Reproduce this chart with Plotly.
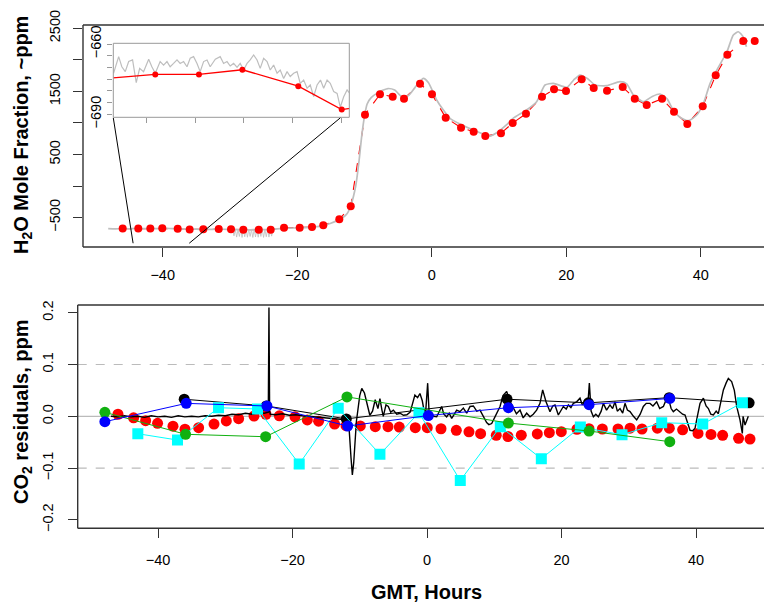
import plotly.graph_objects as go

# page body has an 8 px margin, so the figure is 8 px smaller than the 772x602 window
OFF = 8
W, H = 772 - OFF, 602 - OFF
FONT = "Liberation Sans, Arial, sans-serif"


def fx(px):
    return (px - OFF) / W


def fy(py):
    return 1 - (py - OFF) / H


# ---------------- data: top panel (H2O) ----------------
h2o_t = [-45.95, -43.63, -41.84, -40.06, -37.77, -35.99, -33.96, -31.67, -29.84, -28.01,
         -25.72, -23.94, -21.96, -19.63, -17.80, -16.12, -13.74, -12.04, -9.92, -7.69,
         -5.80, -4.12, -1.74, 0.04, 2.08, 4.36, 6.24, 7.97, 10.30, 12.04,
         14.02, 16.40, 18.19, 19.97, 22.30, 24.09, 26.07, 28.40, 30.19, 31.97,
         34.25, 36.03, 38.01, 40.30, 42.23, 43.96, 46.33, 48.03]
h2o_v = [-675, -673, -673, -671, -678, -688, -685, -681, -686, -692,
         -694, -692, -661, -661, -650, -623, -528, -322, 1130, 1453,
         1415, 1384, 1622, 1453, 1083, 924, 861, 792, 835, 998,
         1146, 1415, 1532, 1506, 1691, 1553, 1510, 1569, 1384, 1284,
         1384, 1178, 983, 1263, 1754, 2081, 2298, 2298]

gray_t = [-48.1, -47.0, -46.0, -45.0, -44.0, -43.0, -42.0, -41.0, -40.0, -39.0, -38.0, -37.0,
          -36.0, -35.0, -34.0, -33.0, -32.0, -31.0, -30.0, -29.0, -28.0, -27.0, -26.0, -25.0,
          -24.0, -23.0, -22.0, -21.0, -20.0, -19.0, -18.0, -17.0, -16.0, -15.0, -14.0, -13.2,
          -12.6, -12.0, -11.3, -10.8, -10.4, -10.0, -9.6, -9.0, -8.0, -7.2, -6.5, -5.5, -4.5,
          -3.5, -2.5, -1.25, -0.5, 0.74, 1.73, 2.72, 4.2, 6.2, 8.67, 9.67, 11.15, 12.1, 14.1,
          15.6, 16.85, 18.1, 20.1, 21.1, 22.05, 23.2, 24.3, 26.0, 28.0, 29.0, 30.0, 31.5, 32.8,
          33.95, 35.0, 35.9, 36.9, 38.2, 39.4, 40.4, 41.4, 42.4, 43.9, 44.85, 45.6, 46.3, 46.8]
gray_v = [-677, -680, -676, -678, -672, -676, -671, -675, -668, -674, -678, -682,
          -686, -684, -690, -688, -684, -686, -690, -692, -688, -694, -690, -692,
          -688, -680, -672, -668, -664, -660, -655, -645, -625, -590, -545, -500,
          -440, -300, 0, 400, 800, 1100, 1300, 1400, 1480, 1521, 1545, 1520, 1420,
          1430, 1560, 1706, 1640, 1363, 1204, 1073, 983, 887, 792, 845, 971, 1073, 1204,
          1336, 1601, 1627, 1564, 1680, 1759, 1700, 1601, 1590, 1653, 1620, 1442, 1336, 1420,
          1458, 1380, 1204, 1089, 1035, 1125, 1311, 1627, 1838, 2128, 2393, 2445, 2366, 2208]

# dense downward gray spikes seen below the points around -29 .. -24 h
hatch_t = [-29.6, -29.4, -29.2, -29.0, -28.8, -28.6, -28.4, -28.2, -28.0, -27.8, -27.6,
           -27.4, -27.2, -27.0, -26.8, -26.6, -26.4, -26.2, -26.0, -25.8, -25.6, -25.4,
           -25.2, -25.0, -24.8, -24.6, -24.4, -24.2, -24.0, -23.8, -23.6]
hatch_v = [-690, -790, -692, -810, -688, -800, -690, -815, -692, -805, -690,
           -812, -688, -800, -692, -815, -690, -808, -692, -812, -690, -800,
           -688, -815, -690, -805, -692, -810, -690, -795, -690]

# inset: zoomed raw H2O signal
inset_t = [-45.34, -45.13, -45.0, -44.86, -44.72, -44.56, -44.41, -44.27, -44.11, -43.90,
           -43.77, -43.63, -43.43, -43.29, -43.15, -43.02, -42.88, -42.74, -42.61, -42.47,
           -42.33, -42.20, -42.06, -41.92, -41.79, -41.65, -41.51, -41.38, -41.17, -40.97,
           -40.83, -40.69, -40.56, -40.42, -40.28, -40.15, -40.01, -39.87, -39.74, -39.60,
           -39.46, -39.33, -39.19, -39.05, -38.92, -38.78, -38.64, -38.51, -38.37, -38.23,
           -38.10, -37.96, -37.82, -37.69, -37.55, -37.41, -37.28, -37.14, -37.00, -36.86,
           -36.73, -36.59, -36.46, -36.32, -36.18, -36.05, -35.91, -35.77, -35.66]
inset_v = [-672.5, -665.4, -669.7, -671.8, -667.5, -666.8, -676.5, -670.4, -671.8, -666.5,
           -669.7, -672.5, -667.5, -669.0, -667.5, -669.7, -668.3, -666.8, -668.3, -667.5,
           -669.7, -666.1, -665.4, -668.3, -671.8, -667.5, -666.8, -669.7, -666.5, -665.4,
           -668.3, -667.5, -669.4, -668.3, -670.0, -668.3, -671.1, -668.3, -666.8, -664.7,
           -666.8, -670.4, -666.1, -667.5, -671.1, -669.0, -672.5, -671.1, -674.7, -671.8,
           -673.9, -672.5, -671.8, -676.8, -675.4, -678.9, -677.5, -682.5, -677.5, -675.4,
           -678.9, -675.4, -676.8, -680.3, -681.1, -687.0, -682.5, -679.6, -681.1]
zoom_window = [-44.4, -36.05]   # hours marked by the connector lines

# ---------------- data: bottom panel (CO2 residuals) ----------------
co2_red_v = [0.004, -0.003, -0.0085, -0.0135, -0.019, -0.025, -0.022, -0.015, -0.009, -0.0046,
             0.0006, 0.004, 0.001, -0.001, -0.007, -0.0095, -0.015, -0.018, -0.0185, -0.020,
             -0.020, -0.0207, -0.022, -0.022, -0.024, -0.027, -0.030, -0.0335, -0.0367, -0.039,
             -0.0365, -0.034, -0.0316, -0.0297, -0.025, -0.024, -0.0245, -0.0245, -0.023, -0.0245,
             -0.023, -0.023, -0.026, -0.033, -0.035, -0.0367, -0.0425, -0.044]

raw_t = [-47, -46, -45, -44, -43, -42, -41, -40, -39, -38, -37, -36, -35, -34, -33, -32, -31,
         -30, -29, -28, -27, -26, -25, -24.2, -23.6, -23.5, -23.4, -23.3, -22.5, -21.5, -20.5,
         -19.5, -18.5, -17.5, -16.5, -15.5, -14.5, -13.5, -12.5, -12.0, -11.6, -11.3, -11.1,
         -10.9, -10.5, -10.0, -9.7, -9.3, -8.9, -8.5, -8.1, -7.7, -7.3, -7.0, -6.7, -6.5, -6.1,
         -5.75, -5.4, -5.0, -4.5, -4.0, -3.5, -3.0, -2.5, -2.1, -1.8, -1.4, -1.05, -0.7, -0.45,
         -0.2, 0.1, 0.3, 0.69, 1.0, 1.44, 1.8, 2.18, 2.5, 2.92, 3.3, 3.67, 4.0, 4.41, 4.9, 5.4,
         5.9, 6.4, 6.89, 7.4, 7.88, 8.4, 8.87, 9.2, 9.62, 10.0, 10.36, 10.86, 11.3, 11.85, 12.3,
         12.84, 13.3, 13.83, 14.3, 14.82, 15.32, 15.8, 16.3, 16.8, 17.2, 17.7, 18.29, 18.7,
         19.03, 19.53, 20.0, 20.27, 20.7, 21.02, 21.4, 21.76, 22.25, 22.75, 23.1, 23.49, 23.9,
         24.14, 24.4, 24.74, 25.1, 25.48, 25.9, 26.22, 26.7, 27.21, 27.6, 27.96, 28.3, 28.7,
         29.1, 29.44, 29.8, 30.19, 30.7, 31.18, 31.7, 32.17, 32.6, 33.16, 33.6, 34.15, 34.6,
         35.15, 35.5, 35.89, 36.3, 36.63, 37.1, 37.63, 38.0, 38.37, 38.8, 39.11, 39.5, 39.86,
         40.2, 40.6, 41.1, 41.5, 41.84, 42.2, 42.58, 43.0, 43.32, 43.7, 44.07, 44.5, 44.81,
         45.3, 45.7, 46.05, 46.54, 46.89, 47.0, 47.29, 47.78]
raw_v = [0.000, -0.001, 0.001, -0.001, 0.000, -0.002, 0.001, -0.001, 0.000, -0.002, 0.001,
         -0.001, 0.000, -0.001, 0.001, 0.000, 0.002, 0.001, 0.004, 0.003, 0.006, 0.004, 0.007,
         0.006, 0.008, 0.21, 0.010, 0.004, 0.003, 0.005, 0.002, 0.003, 0.001, 0.000, -0.001,
         -0.002, -0.003, -0.005, -0.006, -0.004, -0.020, -0.080, -0.113, -0.090, -0.010, 0.040,
         0.054, 0.045, 0.020, 0.002, 0.010, 0.032, 0.015, 0.034, 0.012, 0.000, 0.022, 0.019,
         0.008, 0.012, 0.004, 0.006, 0.002, 0.003, 0.008, 0.030, 0.041, 0.036, 0.044, 0.030,
         0.012, 0.008, 0.064, 0.010, 0.004, 0.000, -0.001, 0.008, 0.019, 0.004, -0.001, 0.006,
         -0.004, 0.003, 0.012, 0.009, 0.016, 0.006, 0.019, 0.020, 0.010, 0.012, 0.000, -0.012,
         -0.016, -0.014, -0.004, 0.005, 0.019, 0.040, 0.048, 0.030, 0.018, 0.005, 0.012, -0.003,
         0.006, -0.001, 0.004, 0.012, 0.025, 0.051, 0.028, 0.009, 0.020, 0.022, 0.0025, 0.012,
         0.019, 0.014, 0.022, 0.017, 0.025, 0.028, 0.035, 0.022, 0.028, 0.020, 0.064, 0.010,
         -0.001, 0.004, -0.001, 0.010, 0.025, 0.012, 0.022, 0.015, 0.028, 0.010, 0.015, 0.006,
         0.025, 0.012, 0.009, 0.000, -0.007, 0.004, 0.019, 0.025, 0.025, 0.020, 0.028, 0.015,
         0.019, 0.030, 0.035, 0.015, 0.009, 0.014, 0.009, 0.004, 0.0025, -0.015, -0.027, -0.028,
         -0.023, 0.000, 0.025, 0.035, 0.020, 0.015, 0.004, 0.0025, 0.010, 0.005, 0.030, 0.051,
         0.065, 0.073, 0.067, 0.050, 0.019, -0.007, -0.033, 0.000, -0.017, 0.000]

black_t = [-36.1, -23.9, -12.0, 11.9, 24.0, 36.0, 47.9]
black_v = [0.033, 0.020, -0.005, 0.033, 0.026, 0.036, 0.026]
blue_t = [-47.9, -35.8, -23.8, -11.8, 0.2, 12.1, 24.1, 36.1]
blue_v = [-0.0104, 0.025, 0.0199, -0.0187, 0.0015, 0.0166, 0.0225, 0.0345]
green_t = [-47.9, -35.9, -24.0, -11.9, 12.1, 24.1, 36.1]
green_v = [0.0077, -0.0347, -0.0394, 0.0375, -0.013, -0.0284, -0.049]
cyan_t = [-43.0, -37.1, -31.0, -25.2, -19.0, -13.2, -7.0, -1.2, 4.95, 10.9, 17.0, 22.8,
          29.0, 34.9, 41.0, 46.9]
cyan_v = [-0.0336, -0.0458, 0.0166, 0.0141, -0.092, 0.0154, -0.0734, 0.007, -0.124, -0.020,
          -0.0818, -0.0207, -0.0355, -0.0123, -0.0149, 0.0263]

x_ticks = [-40, -20, 0, 20, 40]
x_ticktext = ["\u221240", "\u221220", "0", "20", "40"]
h2o_ticks = [-500, 0, 500, 1000, 1500, 2000, 2500]
h2o_ticktext = ["\u2212500", " ", "500", " ", "1500", " ", "2500"]
co2_ticks = [-0.2, -0.1, 0.0, 0.1, 0.2]
co2_ticktext = ["\u22120.2", "\u22120.1", "0.0", "0.1", "0.2"]
inset_yticks = [-690, -685, -680, -675, -670, -665, -660]
inset_yticktext = ["\u2212690", " ", " ", " ", " ", " ", "\u2212660"]
inset_xticks = [-44, -42, -40, -38, -36]

# ---------------- geometry (window pixels -> paper fractions) ----------------
top_xdom = [fx(83), 1.0]
top_xrng = [-51.85, 50.6]
top_ydom = [fy(247), fy(25)]
top_yrng = [-967, 2552]
bot_xdom = [fx(77.7), 1.0]
bot_xrng = [-51.94, 51.3]
bot_ydom = [fy(528.3), fy(305)]
bot_yrng = [-0.2162, 0.2149]
ins_xdom = [fx(113.3), fx(349.3)]
ins_ydom = [fy(117.3), fy(43.3)]
ins_xrng = [-45.35, -35.68]
ins_yrng = [-691.3, -659.7]


def to_paper(v, dom, rng):
    return dom[0] + (v - rng[0]) / (rng[1] - rng[0]) * (dom[1] - dom[0])


fig = go.Figure()

# top panel
fig.add_trace(go.Scatter(x=h2o_t, y=h2o_v, mode="lines",
                         line=dict(color="red", width=1.1, dash="dash"),
                         xaxis="x", yaxis="y", hoverinfo="skip"))
fig.add_trace(go.Scatter(x=hatch_t, y=hatch_v, mode="lines", line=dict(color="#BEBEBE", width=0.8),
                         xaxis="x", yaxis="y", hoverinfo="skip"))
fig.add_trace(go.Scatter(x=gray_t, y=gray_v, mode="lines",
                         line=dict(color="#BEBEBE", width=1.7, shape="spline", smoothing=0.6),
                         xaxis="x", yaxis="y", hoverinfo="skip"))
fig.add_trace(go.Scatter(x=h2o_t, y=h2o_v, mode="markers", marker=dict(color="red", size=8),
                         xaxis="x", yaxis="y"))

# inset
fig.add_trace(go.Scatter(x=inset_t, y=inset_v, mode="lines", line=dict(color="#BEBEBE", width=1.2),
                         xaxis="x3", yaxis="y3", hoverinfo="skip"))
fig.add_trace(go.Scatter(x=h2o_t, y=h2o_v, mode="lines+markers", line=dict(color="red", width=1.3),
                         marker=dict(color="red", size=6), xaxis="x3", yaxis="y3"))

# bottom panel
fig.add_trace(go.Scatter(x=h2o_t, y=co2_red_v, mode="markers", marker=dict(color="red", size=11),
                         xaxis="x2", yaxis="y2"))
fig.add_trace(go.Scatter(x=raw_t, y=raw_v, mode="lines", line=dict(color="black", width=1.4),
                         xaxis="x2", yaxis="y2", hoverinfo="skip"))
fig.add_trace(go.Scatter(x=black_t, y=black_v, mode="lines+markers", line=dict(color="black", width=1),
                         marker=dict(color="black", size=11), xaxis="x2", yaxis="y2"))
fig.add_trace(go.Scatter(x=cyan_t, y=cyan_v, mode="lines+markers", line=dict(color="#00FFFF", width=1),
                         marker=dict(color="#00FFFF", size=11, symbol="square"), xaxis="x2", yaxis="y2"))
fig.add_trace(go.Scatter(x=green_t, y=green_v, mode="lines+markers", line=dict(color="#10B010", width=1),
                         marker=dict(color="#10B010", size=11), xaxis="x2", yaxis="y2"))
fig.add_trace(go.Scatter(x=blue_t, y=blue_v, mode="lines+markers", line=dict(color="#0000FF", width=1),
                         marker=dict(color="#0000FF", size=11), xaxis="x2", yaxis="y2"))

tickfont = dict(family=FONT, size=14.5, color="black")
common = dict(showgrid=False, zeroline=False, showline=False, ticks="outside", ticklen=9,
              tickwidth=1, tickcolor="#333", tickfont=tickfont, automargin=False)

shapes = []
for xd, yd in (("x domain", "y domain"), ("x2 domain", "y2 domain")):
    for (a, b, c, d) in ((0, 1, 1, 1), (0, 0, 0, 1), (0, 0, 1, 0)):
        shapes.append(dict(type="line", xref=xd, yref=yd, x0=a, y0=b, x1=c, y1=d,
                           line=dict(color="#333", width=1.4)))
# reference lines bottom panel
shapes.append(dict(type="line", xref="x2 domain", yref="y2", x0=0, x1=1, y0=0, y1=0,
                   line=dict(color="#BBBBBB", width=1.2), layer="below"))
for yv in (0.1, -0.1):
    shapes.append(dict(type="line", xref="x2 domain", yref="y2", x0=0, x1=1, y0=yv, y1=yv,
                       line=dict(color="#BBBBBB", width=1.2, dash="dash"), layer="below"))
# inset frame
shapes.append(dict(type="rect", xref="x3 domain", yref="y3 domain", x0=0, x1=1, y0=0, y1=1,
                   line=dict(color="#999999", width=1)))
# connector lines from inset to zoomed region
y_bottom_main = top_yrng[0] + 0.017 * (top_yrng[1] - top_yrng[0])
shapes.append(dict(type="line", xref="paper", yref="paper",
                   x0=ins_xdom[0], y0=ins_ydom[0] - 0.001,
                   x1=to_paper(zoom_window[0], top_xdom, top_xrng),
                   y1=to_paper(y_bottom_main, top_ydom, top_yrng),
                   line=dict(color="black", width=1)))
shapes.append(dict(type="line", xref="paper", yref="paper",
                   x0=to_paper(zoom_window[1], ins_xdom, ins_xrng), y0=ins_ydom[0] - 0.001,
                   x1=to_paper(zoom_window[1], top_xdom, top_xrng),
                   y1=to_paper(y_bottom_main, top_ydom, top_yrng),
                   line=dict(color="black", width=1)))

annotations = [
    dict(text="<b>H<sub>2</sub>O Mole Fraction, ~ppm</b>", x=fx(22.5), y=fy(135.5),
         xref="paper", yref="paper", textangle=-90, showarrow=False,
         font=dict(family=FONT, size=20, color="black"), xanchor="center", yanchor="middle"),
    dict(text="<b>CO<sub>2</sub> residuals, ppm</b>", x=fx(22.5), y=fy(411.5),
         xref="paper", yref="paper", textangle=-90, showarrow=False,
         font=dict(family=FONT, size=20, color="black"), xanchor="center", yanchor="middle"),
    dict(text="<b>GMT, Hours</b>", x=fx(426.5), y=fy(591.7),
         xref="paper", yref="paper", showarrow=False,
         font=dict(family=FONT, size=20, color="black"), xanchor="center", yanchor="middle"),
]

fig.update_layout(
    width=W, height=H, margin=dict(l=0, r=0, t=0, b=0, pad=0, autoexpand=False),
    paper_bgcolor="white", plot_bgcolor="white", showlegend=False,
    font=dict(family=FONT),
    xaxis=dict(domain=top_xdom, range=top_xrng, anchor="y", tickvals=x_ticks,
               ticktext=x_ticktext, ticklabelstandoff=6, **common),
    yaxis=dict(domain=top_ydom, range=top_yrng, anchor="x", tickvals=h2o_ticks,
               ticktext=h2o_ticktext, tickangle=-90, ticklabelstandoff=7, **common),
    xaxis2=dict(domain=bot_xdom, range=bot_xrng, anchor="y2", tickvals=x_ticks,
                ticktext=x_ticktext, ticklabelstandoff=9, **common),
    yaxis2=dict(domain=bot_ydom, range=bot_yrng, anchor="x2", tickvals=co2_ticks,
                ticktext=co2_ticktext, tickangle=-90, ticklabelstandoff=9, **common),
    xaxis3=dict(domain=ins_xdom, range=ins_xrng, anchor="y3", tickvals=inset_xticks,
                showticklabels=False, showgrid=False, zeroline=False, showline=False,
                ticks="outside", ticklen=5, tickcolor="#999999", automargin=False),
    yaxis3=dict(domain=ins_ydom, range=ins_yrng, anchor="x3", tickvals=inset_yticks,
                ticktext=inset_yticktext, tickangle=-90, showgrid=False, zeroline=False,
                showline=False, ticks="outside", ticklen=5, tickcolor="#999999",
                tickfont=tickfont, ticklabelstandoff=1, automargin=False),
    shapes=shapes, annotations=annotations,
)

fig.write_html("out.html")
